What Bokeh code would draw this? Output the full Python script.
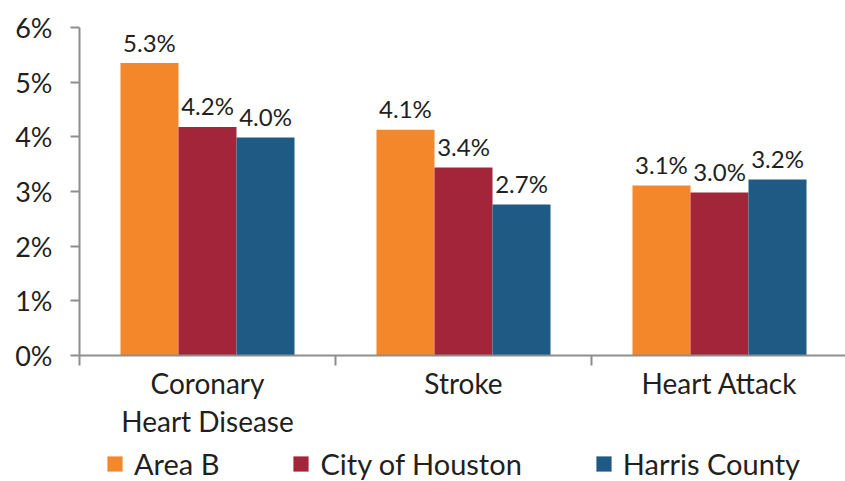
from bokeh.plotting import figure
from bokeh.models import ColumnDataSource, Range1d, FixedTicker, Legend, LegendItem
from bokeh.layouts import column
from bokeh.embed import file_html
from bokeh.resources import INLINE
from bokeh.core.properties import value

# ---- data ----
categories = ["Coronary\nHeart Disease", "Stroke", "Heart Attack"]
series_names = ["Area B", "City of Houston", "Harris County"]
area_b = [5.35, 4.13, 3.11]
city_of_houston = [4.18, 3.44, 2.98]
harris_county = [3.99, 2.76, 3.22]
area_b_labels = ["5.3%", "4.1%", "3.1%"]
city_of_houston_labels = ["4.2%", "3.4%", "3.0%"]
harris_county_labels = ["4.0%", "2.7%", "3.2%"]
y_ticks = [0, 1, 2, 3, 4, 5, 6]
y_tick_labels = ["0%", "1%", "2%", "3%", "4%", "5%", "6%"]
colors = ["#F3872A", "#A3253A", "#1E5A84"]

FONT = "Lato"
TEXT = "#231f20"
AXIS = "#8e8e8e"

W = 845
H_MAIN, H_LEG = 440, 41
LEFT, TOP = 79, 27
FRAME_BOTTOM = 355
cat_px = 256.0
frame_w = W - LEFT

p = figure(width=W, height=H_MAIN, output_backend="svg", toolbar_location=None,
           x_range=Range1d(0, frame_w / cat_px), y_range=Range1d(0, 6),
           min_border_left=LEFT, min_border_right=0, min_border_top=TOP,
           min_border_bottom=H_MAIN - FRAME_BOTTOM)
p.outline_line_color = None
p.xgrid.visible = False
p.ygrid.visible = False
p.background_fill_color = "white"
p.border_fill_color = "white"

bar_w = 0.2266
all_vals = [area_b, city_of_houston, harris_county]
all_lbls = [area_b_labels, city_of_houston_labels, harris_county_labels]
for j, (vals, lbls, col) in enumerate(zip(all_vals, all_lbls, colors)):
    xs = [i + 0.5 + (j - 1) * bar_w for i in range(len(categories))]
    src = ColumnDataSource(dict(x=xs, top=vals, label=lbls))
    p.vbar(x="x", top="top", bottom=0, width=bar_w, source=src,
           fill_color=col, line_color=None)
    p.text(x="x", y="top", text="label", source=src, text_align="center",
           text_baseline="alphabetic", y_offset=-21, text_font=value(FONT),
           text_font_size="24px", text_color=TEXT)

# x axis
xa = p.xaxis[0]
xa.ticker = FixedTicker(ticks=[i + 0.5 for i in range(len(categories))],
                        minor_ticks=list(range(len(categories) + 1)))
xa.major_label_overrides = {i + 0.5: c for i, c in enumerate(categories)}
xa.axis_line_color = AXIS
xa.axis_line_width = 2
xa.major_tick_line_color = None
xa.major_tick_out = 0
xa.major_tick_in = 0
xa.minor_tick_line_color = AXIS
xa.minor_tick_line_width = 2
xa.minor_tick_out = 10
xa.minor_tick_in = 0
xa.major_label_standoff = 0
xa.major_label_text_font = FONT
xa.major_label_text_font_size = "28px"
xa.major_label_text_color = TEXT
xa.major_label_text_line_height = 1.13

# y axis
ya = p.yaxis[0]
ya.ticker = FixedTicker(ticks=y_ticks, minor_ticks=[])
ya.major_label_overrides = {t: l for t, l in zip(y_ticks, y_tick_labels)}
ya.axis_line_color = AXIS
ya.axis_line_width = 2
ya.major_tick_line_color = AXIS
ya.major_tick_line_width = 2
ya.major_tick_out = 9
ya.major_tick_in = 0
ya.minor_tick_line_color = None
ya.major_label_standoff = 18
ya.major_label_text_font = FONT
ya.major_label_text_font_size = "27px"
ya.major_label_text_color = TEXT

# legend strip
pl = figure(width=W, height=H_LEG, output_backend="svg", toolbar_location=None,
            x_range=Range1d(0, 1), y_range=Range1d(0, 1),
            x_axis_location=None, y_axis_location=None,
            min_border_left=LEFT, min_border_right=0, min_border_top=0,
            min_border_bottom=0)
pl.outline_line_color = None
pl.xgrid.visible = False
pl.ygrid.visible = False
items = []
for col, name in zip(colors, series_names):
    # swatch renderer placed outside the visible range; only its legend glyph shows
    r = pl.vbar(x=[5], top=[0.5], width=0.1, fill_color=col, line_color=None)
    items.append(LegendItem(label=name, renderers=[r]))
legend = Legend(items=items, orientation="horizontal", location=(26, 0),
                glyph_width=19, glyph_height=19, label_standoff=10, spacing=72,
                padding=0, margin=0, border_line_color=None,
                background_fill_alpha=0, label_text_font=FONT,
                label_text_font_size="29px", label_text_color=TEXT)
pl.add_layout(legend, "center")

layout = column(p, pl, spacing=0)
open("out.html", "w").write(file_html(layout, INLINE))
